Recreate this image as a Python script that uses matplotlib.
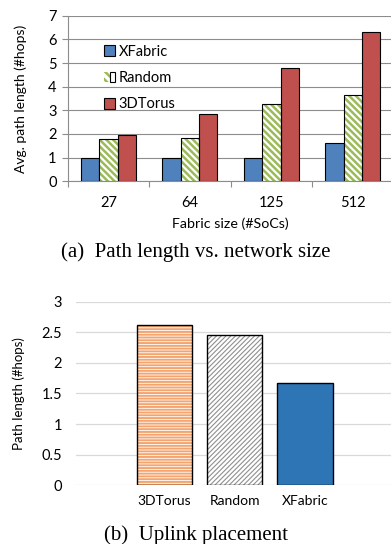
import matplotlib
matplotlib.use("Agg")
import matplotlib.pyplot as plt
import numpy as np
from matplotlib.patches import Patch
from matplotlib.legend_handler import HandlerTuple

# ---- data ----
sizes = ["27", "64", "125", "512"]
xfabric = [1.0, 1.0, 1.0, 1.6]
random_ = [1.77, 1.82, 3.27, 3.66]
torus = [1.97, 2.84, 4.80, 6.30]
series_names = ["XFabric", "Random", "3DTorus"]

uplink_names = ["3DTorus", "Random", "XFabric"]
uplink_vals = [2.62, 2.45, 1.67]

SANS = ["Lato", "DejaVu Sans"]
SERIF = ["Liberation Serif", "DejaVu Serif"]
plt.rcParams["font.family"] = SANS

fig = plt.figure(figsize=(3.91, 5.44), dpi=100)

# ---------------- top chart ----------------
ax1 = fig.add_axes([0.173, 0.667, 0.834, 0.304])
x = np.arange(len(sizes))
w = 0.225
blue, green, red = "#4F81BD", "#9BBB59", "#C0504D"
ax1.bar(x - w, xfabric, w, color=blue, edgecolor="black", linewidth=0.8, zorder=3)
plt.rcParams["hatch.linewidth"] = 1.8
ax1.bar(x, random_, w, color="white", edgecolor=green, hatch="\\\\\\\\\\", linewidth=0, zorder=3)
ax1.bar(x, random_, w, fill=False, edgecolor="black", linewidth=0.8, zorder=4)
ax1.bar(x + w, torus, w, color=red, edgecolor="black", linewidth=0.8, zorder=3)

ax1.set_xlim(-0.5, 3.5)
ax1.set_ylim(0, 7)
ax1.set_yticks(range(0, 8))
ax1.yaxis.grid(True, color="#8C8C8C", linewidth=0.8, zorder=0)
ax1.set_axisbelow(True)
for s in ["top", "right"]:
    ax1.spines[s].set_visible(False)
for s in ["left", "bottom"]:
    ax1.spines[s].set_color("#8C8C8C")
    ax1.spines[s].set_linewidth(0.8)
ax1.set_xticks(x)
ax1.set_xticklabels(sizes)
ax1.set_xticks(np.arange(-0.5, 4.0, 1.0), minor=True)
ax1.tick_params(axis="x", which="major", length=0, pad=11, labelsize=10.5)
ax1.tick_params(axis="x", which="minor", length=4, color="#8C8C8C", width=0.8)
ax1.tick_params(axis="y", length=4, color="#8C8C8C", width=0.8, pad=4, labelsize=10.5)
ax1.set_xlabel("Fabric size (#SoCs)", fontsize=10.3, labelpad=5)
ax1.set_ylabel("Avg. path length (#hops)", fontsize=10, labelpad=15)

h_x = Patch(facecolor=blue, edgecolor="black", linewidth=0.8)
h_r1 = Patch(facecolor="white", edgecolor=green, hatch="\\\\\\\\", linewidth=0)
h_r2 = Patch(fill=False, edgecolor="black", linewidth=0.8)
h_t = Patch(facecolor=red, edgecolor="black", linewidth=0.8)
ax1.legend([h_x, (h_r1, h_r2), h_t], series_names,
           handler_map={tuple: HandlerTuple(ndivide=None, pad=0)},
           loc="upper left", bbox_to_anchor=(0.09, 0.87), frameon=False,
           fontsize=10.5, handlelength=0.75, handleheight=0.75,
           handletextpad=0.25, labelspacing=0.85, borderpad=0)

fig.text(0.5, 0.536, "(a)  Path length vs. network size", ha="center", va="center",
         family=SERIF, fontsize=15)

# ---------------- bottom chart ----------------
ax2 = fig.add_axes([0.194, 0.108, 0.812, 0.3374])
xb = np.arange(len(uplink_names))
wb = 0.79
orange, gray, blue2 = "#F4A46E", "#8F8F8F", "#2E75B6"
plt.rcParams["hatch.linewidth"] = 1.4
ax2.bar(xb[0], uplink_vals[0], wb, color="white", edgecolor=orange, hatch="------", linewidth=0, zorder=3)
plt.rcParams["hatch.linewidth"] = 0.8
ax2.bar(xb[1], uplink_vals[1], wb, color="white", edgecolor=gray, hatch="///////", linewidth=0, zorder=3)
ax2.bar(xb[2], uplink_vals[2], wb, color=blue2, linewidth=0, zorder=3)
ax2.bar(xb, uplink_vals, wb, fill=False, edgecolor="black", linewidth=1.0, zorder=4)

ax2.set_xlim(-1.26, 3.26)
ax2.set_ylim(0, 3)
ax2.set_yticks([0, 0.5, 1, 1.5, 2, 2.5, 3])
ax2.set_yticklabels(["0", "0.5", "1", "1.5", "2", "2.5", "3"])
ax2.yaxis.grid(True, color="#D9D9D9", linewidth=0.9, zorder=0)
ax2.set_axisbelow(True)
for s in ax2.spines.values():
    s.set_visible(False)
ax2.set_xticks(xb)
ax2.set_xticklabels(uplink_names)
ax2.tick_params(axis="x", length=0, pad=7, labelsize=10)
ax2.tick_params(axis="y", length=0, pad=10, labelsize=10.5)
ax2.set_ylabel("Path length (#hops)", fontsize=9.5, labelpad=12)

fig.text(0.5, 0.017, "(b)  Uplink placement", ha="center", va="center",
         family=SERIF, fontsize=15)

fig.savefig("out.png", dpi=100)
